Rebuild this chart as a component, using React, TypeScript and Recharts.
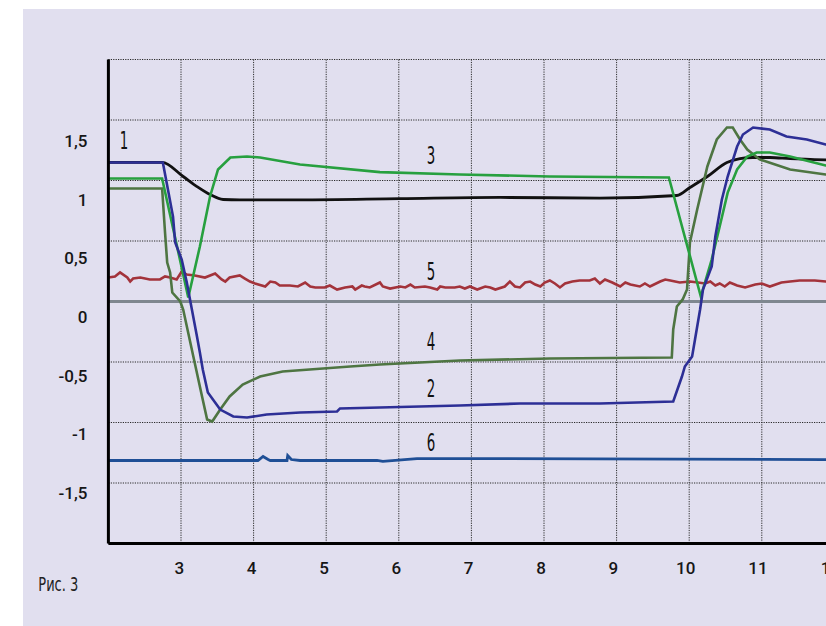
import React from 'react';
import { LineChart, Line, XAxis, YAxis, CartesianGrid, ReferenceLine, ReferenceDot } from 'recharts';

// ---- axis values ----
const xTickLabels = [3, 4, 5, 6, 7, 8, 9, 10, 11, 12];
const yTickLabels = [-1.5, -1, -0.5, 0, 0.5, 1, 1.5];
const yGridValues = [-2, -1.5, -1, -0.5, 0, 0.5, 1, 1.5, 2];

// ---- series (x, y) ----
const series1: [number, number][] = [
  [2, 1.15], [2.74, 1.15], [3.03, 1.033], [3.22, 0.95], [3.4, 0.884], [3.58, 0.843], [3.81, 0.84],
  [4.64, 0.84], [6.02, 0.85], [7.4, 0.86], [8.77, 0.855], [9.83, 0.876], [10.01, 0.942], [10.25, 1.033],
  [10.52, 1.149], [10.7, 1.18], [10.88, 1.19], [11.11, 1.19], [11.39, 1.18], [11.88, 1.17], [12.5, 1.165],
];

const series2: [number, number][] = [
  [2, 1.149], [2.75, 1.149], [2.82, 0.926], [2.89, 0.702], [2.92, 0.488], [3.01, 0.347], [3.08, 0.157],
  [3.15, -0.066], [3.22, -0.289], [3.26, -0.421], [3.3, -0.562], [3.37, -0.752], [3.54, -0.893],
  [3.72, -0.95], [3.91, -0.959], [4.18, -0.934], [4.64, -0.917], [5.15, -0.909], [5.19, -0.884],
  [5.74, -0.876], [6.84, -0.86], [7.67, -0.843], [8.77, -0.843], [9.78, -0.826], [9.9, -0.62],
  [9.94, -0.537], [10.04, -0.455], [10.08, -0.314], [10.15, -0.066], [10.19, 0.099], [10.31, 0.289],
  [10.36, 0.537], [10.45, 0.843], [10.53, 1.033], [10.66, 1.281], [10.74, 1.38], [10.88, 1.438],
  [11.11, 1.421], [11.34, 1.364], [11.62, 1.339], [11.88, 1.298], [12.5, 1.26],
];

const series3: [number, number][] = [
  [2, 1.017], [2.74, 1.017], [3.1, 0.033], [3.26, 0.455], [3.4, 0.868], [3.51, 1.091], [3.68, 1.19],
  [3.91, 1.198], [4.09, 1.19], [4.64, 1.132], [5.74, 1.069], [6.84, 1.05], [8.08, 1.033], [9.72, 1.025],
  [10.16, 0.041], [10.31, 0.347], [10.42, 0.62], [10.53, 0.9], [10.66, 1.091], [10.8, 1.198],
  [10.93, 1.231], [11.11, 1.231], [11.39, 1.198], [11.88, 1.124], [12.5, 1.08],
];

const series4: [number, number][] = [
  [2, 0.934], [2.74, 0.934], [2.78, 0.57], [2.81, 0.322], [2.85, 0.24], [2.88, 0.074], [2.99, 0.0],
  [3.03, -0.066], [3.17, -0.455], [3.29, -0.785], [3.36, -0.975], [3.43, -0.992], [3.54, -0.893],
  [3.67, -0.785], [3.85, -0.686], [4.09, -0.62], [4.4, -0.579], [5.33, -0.537], [5.74, -0.521],
  [6.84, -0.488], [8.08, -0.471], [9.76, -0.463], [9.78, -0.231], [9.83, -0.041], [9.91, 0.017],
  [9.97, 0.099], [10.01, 0.488], [10.11, 0.76], [10.25, 1.116], [10.38, 1.339], [10.52, 1.438],
  [10.6, 1.438], [10.7, 1.339], [10.8, 1.256], [10.97, 1.174], [11.39, 1.091], [11.88, 1.05], [12.5, 1.02],
];

const series5: [number, number][] = [
  [2.0, 0.198], [2.09, 0.207], [2.16, 0.24], [2.26, 0.198], [2.3, 0.165], [2.34, 0.19], [2.44, 0.198],
  [2.57, 0.182], [2.71, 0.182], [2.78, 0.207], [2.85, 0.198], [2.94, 0.182], [3.01, 0.248], [3.08, 0.223],
  [3.19, 0.215], [3.33, 0.198], [3.47, 0.231], [3.56, 0.182], [3.61, 0.165], [3.67, 0.198], [3.81, 0.215],
  [3.88, 0.19], [3.95, 0.165], [4.02, 0.149], [4.16, 0.124], [4.23, 0.165], [4.3, 0.157], [4.36, 0.132],
  [4.5, 0.132], [4.61, 0.124], [4.71, 0.157], [4.78, 0.124], [4.85, 0.116], [4.98, 0.116], [5.05, 0.132],
  [5.15, 0.099], [5.26, 0.116], [5.36, 0.124], [5.4, 0.099], [5.49, 0.132], [5.53, 0.124], [5.6, 0.116],
  [5.74, 0.157], [5.78, 0.124], [5.88, 0.107], [6.02, 0.124], [6.09, 0.116], [6.16, 0.14], [6.22, 0.116],
  [6.36, 0.124], [6.43, 0.116], [6.53, 0.099], [6.57, 0.124], [6.64, 0.116], [6.77, 0.116], [6.84, 0.124],
  [6.91, 0.107], [6.98, 0.124], [7.08, 0.099], [7.19, 0.124], [7.26, 0.116], [7.33, 0.099], [7.46, 0.124],
  [7.53, 0.165], [7.6, 0.124], [7.67, 0.116], [7.74, 0.157], [7.81, 0.165], [7.88, 0.14], [7.95, 0.124],
  [8.01, 0.157], [8.08, 0.174], [8.15, 0.149], [8.22, 0.116], [8.29, 0.149], [8.39, 0.165], [8.49, 0.174],
  [8.63, 0.174], [8.7, 0.19], [8.77, 0.149], [8.84, 0.182], [8.94, 0.157], [9.05, 0.124], [9.12, 0.157],
  [9.19, 0.14], [9.32, 0.124], [9.39, 0.149], [9.46, 0.124], [9.6, 0.165], [9.67, 0.182], [9.74, 0.174],
  [9.87, 0.157], [10.01, 0.165], [10.12, 0.157], [10.22, 0.149], [10.29, 0.165], [10.36, 0.132],
  [10.42, 0.149], [10.49, 0.124], [10.56, 0.157], [10.66, 0.132], [10.77, 0.116], [10.91, 0.14],
  [11.0, 0.149], [11.11, 0.124], [11.27, 0.157], [11.39, 0.165], [11.52, 0.174], [11.73, 0.174],
  [11.88, 0.165], [12.5, 0.165],
];

const series6: [number, number][] = [
  [2, -1.314], [4.06, -1.314], [4.13, -1.281], [4.2, -1.306], [4.23, -1.314], [4.46, -1.314],
  [4.47, -1.273], [4.52, -1.306], [4.64, -1.314], [5.7, -1.314], [5.78, -1.322], [6.25, -1.298],
  [7.39, -1.298], [11.88, -1.306], [12.5, -1.306],
];

// series label positions (x, y) and text
const seriesLabels: { text: string; x: number; y: number }[] = [
  { text: '1', x: 2.215, y: 1.331 },
  { text: '3', x: 6.442, y: 1.207 },
  { text: '5', x: 6.442, y: 0.25 },
  { text: '4', x: 6.442, y: -0.326 },
  { text: '2', x: 6.442, y: -0.719 },
  { text: '6', x: 6.442, y: -1.161 },
];

const toPts = (s: [number, number][]) => s.map(([x, y]) => ({ x, y }));

const fmt = (v: number) => String(v).replace('.', ',');

const tickStyle = { fill: '#161616', fontSize: 17, fontFamily: 'Roboto', fontWeight: 500 };

const XTick = (props: any) => {
  const { x, y, payload } = props;
  const v = payload?.value ?? 0;
  // the printed labels sit slightly left of their grid lines
  const shift = -1.7 - 0.26 * (v - 3);
  return (
    <text x={x + shift} y={y} dy="0.71em" textAnchor="middle" {...tickStyle}>
      {String(v)}
    </text>
  );
};

const SeriesLabel = (props: any) => {
  const { cx, cy, text } = props;
  if (cx == null || cy == null) return null;
  return (
    <text
      x={cx}
      y={cy + 8.7}
      textAnchor="middle"
      fontFamily="DejaVu Sans Condensed, DejaVu Sans"
      fontSize={24}
      fill="#111"
      textLength={8.5}
      lengthAdjust="spacingAndGlyphs"
    >
      {text}
    </text>
  );
};

export default function App() {
  const lineCommon = { xAxisId: 'd', yAxisId: 'd', dataKey: 'y', dot: false, isAnimationActive: false, activeDot: false } as any;
  return (
    <div style={{ position: 'absolute', left: 0, top: 0, width: 826, height: 626, overflow: 'hidden', background: '#ffffff' }}>
      <div style={{ position: 'absolute', left: 23, top: 9, right: 0, bottom: 0, background: '#e1dfef' }} />
      <svg style={{ position: 'absolute', left: 0, top: 0 }} width={120} height={626}>
        <text x={38.3} y={590.7} fontFamily="DejaVu Sans Condensed, DejaVu Sans" fontSize={20} fill="#222" textLength={40} lengthAdjust="spacingAndGlyphs">
          Рис. 3
        </text>
      </svg>
      <div style={{ position: 'absolute', left: 0, top: 0 }}>
        <LineChart width={950} height={626} margin={{ top: 59.5, right: 43, bottom: 22.5, left: 8.4 }}>
          <XAxis
            xAxisId="d"
            dataKey="x"
            type="number"
            domain={[2, 13]}
            ticks={xTickLabels}
            interval={0}
            allowDataOverflow
            height={60}
            tickSize={0}
            tickMargin={18}
            tickLine={false}
            axisLine={{ stroke: '#000', strokeWidth: 3 }}
            tick={<XTick />}
          />
          <YAxis yAxisId="d" type="number" domain={[-2, 2]} ticks={yGridValues} hide width={0} allowDataOverflow />
          <YAxis
            yAxisId="l"
            type="number"
            domain={[-1.931, 2.195]}
            ticks={yTickLabels}
            interval={0}
            allowDataOverflow
            width={100}
            tickSize={0}
            tickMargin={21}
            tickLine={false}
            axisLine={{ stroke: '#000', strokeWidth: 3 }}
            tick={tickStyle}
            tickFormatter={fmt}
          />
          <CartesianGrid xAxisId="d" yAxisId="d" stroke="#2a2a2a" strokeDasharray="1.2 1.2" strokeWidth={1} />
          <ReferenceLine xAxisId="d" yAxisId="d" y={0} stroke="#7f878f" strokeWidth={3} />
          <Line {...lineCommon} data={toPts(series5)} type="linear" stroke="#a3333b" strokeWidth={2.6} />
          <Line {...lineCommon} data={toPts(series6)} type="linear" stroke="#1f4f96" strokeWidth={2.8} />
          <Line {...lineCommon} data={toPts(series1)} type="monotone" stroke="#111111" strokeWidth={2.8} />
          <Line {...lineCommon} data={toPts(series4)} type="linear" stroke="#4e7542" strokeWidth={2.6} />
          <Line {...lineCommon} data={toPts(series3)} type="linear" stroke="#27a03f" strokeWidth={2.6} />
          <Line {...lineCommon} data={toPts(series2)} type="linear" stroke="#2d2f96" strokeWidth={2.6} />
          {seriesLabels.map((l) => (
            <ReferenceDot
              key={l.text}
              xAxisId="d"
              yAxisId="d"
              x={l.x}
              y={l.y}
              r={0}
              shape={(p: any) => <SeriesLabel cx={p.cx} cy={p.cy} text={l.text} />}
            />
          ))}
        </LineChart>
      </div>
    </div>
  );
}
